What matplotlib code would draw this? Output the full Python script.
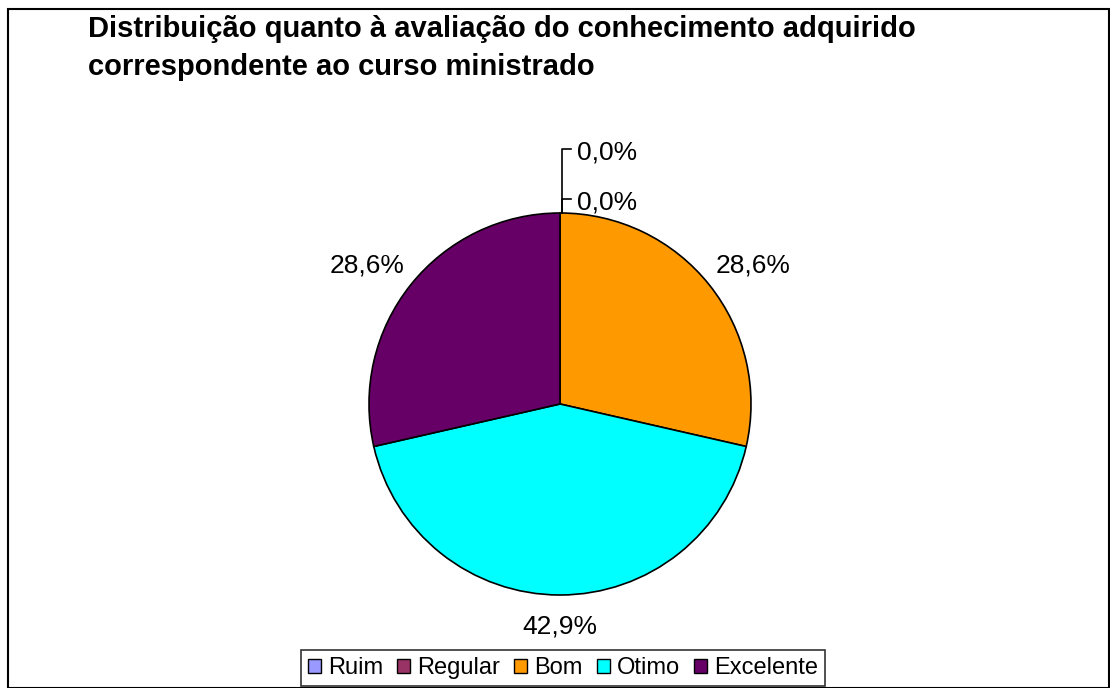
import matplotlib
matplotlib.use("Agg")
import matplotlib.pyplot as plt
from matplotlib.patches import Rectangle
import numpy as np

plt.rcParams['font.family'] = ['Liberation Sans', 'DejaVu Sans']

categorias = ['Ruim', 'Regular', 'Bom', 'Otimo', 'Excelente']
valores = [0, 0, 2, 3, 2]
cores = ['#9999FF', '#993366', '#FF9900', '#00FFFF', '#660066']
titulo = 'Distribuição quanto à avaliação do conhecimento adquirido\ncorrespondente ao curso ministrado'

W, H = 1110, 688
fig = plt.figure(figsize=(W / 100, H / 100), dpi=100)

# moldura do grafico
fig.add_artist(Rectangle((8 / W, 0.5 / H), (W - 9) / W, (H - 9) / H,
                         transform=fig.transFigure, fill=False, ec='black', lw=1.5))

fig.text(88 / W, 1 - 48 / H, titulo, fontsize=21, fontweight='bold',
         ha='left', va='center', linespacing=1.43)

cx, cy, r = 560, 404, 191
ax = fig.add_axes([(cx - r) / W, (H - cy - r) / H, 2 * r / W, 2 * r / H])
wedges, _ = ax.pie(valores, colors=cores, startangle=90, counterclock=False,
                   wedgeprops=dict(edgecolor='black', linewidth=1.2))
ax.set_xlim(-1, 1)
ax.set_ylim(-1, 1)
ax.set_aspect('equal')
ax.axis('off')

total = sum(valores)
zeros = 0
gap, hw, hh = 19, 37, 12  # em pixels
for w, v in zip(wedges, valores):
    txt = f'{100 * v / total:.1f}%'.replace('.', ',')
    ang = np.deg2rad((w.theta1 + w.theta2) / 2)
    if v == 0:
        # rotulos com linha de chamada
        ylin = 1.335 if zeros == 0 else 1.073
        ax.plot([0.01, 0.01, 0.06], [1.0, ylin, ylin], color='black', lw=1.2, clip_on=False)
        ax.text(0.09, ylin - 0.02, txt, fontsize=19, ha='left', va='center')
        zeros += 1
    else:
        c, s = np.cos(ang), np.sin(ang)
        x = ((r + gap) * c + hw * c) / r
        y = ((r + gap) * s + hh * s) / r
        ax.text(x, y, txt, fontsize=19, ha='center', va='center')

handles = [Rectangle((0, 0), 1, 1, fc=c, ec='black', lw=1) for c in cores]
leg = fig.legend(handles, categorias, loc='center', bbox_to_anchor=(563 / W, 1 - 668 / H),
                 ncol=5, fontsize=17, frameon=True, fancybox=False, edgecolor='black',
                 handlelength=0.55, handleheight=0.55, handletextpad=0.3, columnspacing=0.6,
                 borderpad=0.3, borderaxespad=0)
leg.get_frame().set_linewidth(1.2)

fig.savefig('out.png', dpi=100, facecolor='white')
